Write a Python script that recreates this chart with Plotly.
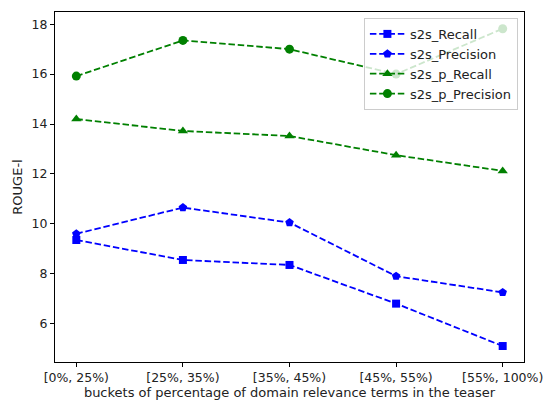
import plotly.graph_objects as go

categories = ["[0%, 25%)", "[25%, 35%)", "[35%, 45%)", "[45%, 55%)", "[55%, 100%)"]
s2s_recall = [9.35, 8.55, 8.35, 6.8, 5.1]
s2s_precision = [9.6, 10.65, 10.05, 7.9, 7.25]
s2s_p_recall = [14.2, 13.72, 13.52, 12.75, 12.12]
s2s_p_precision = [15.92, 17.35, 17.0, 16.0, 17.82]

series = [
    ("s2s_Recall", s2s_recall, "#0000ff", "square", 8),
    ("s2s_Precision", s2s_precision, "#0000ff", "pentagon", 9),
    ("s2s_p_Recall", s2s_p_recall, "#008000", "triangle-up", 9),
    ("s2s_p_Precision", s2s_p_precision, "#008000", "circle", 9),
]

x_idx = list(range(len(categories)))
fig = go.Figure()
for name, vals, color, sym, size in series:
    fig.add_trace(go.Scatter(
        x=x_idx, y=vals, name=name, mode="lines+markers",
        line=dict(color=color, width=1.8, dash="6.5px,2.8px"),
        marker=dict(symbol=sym, size=size, color=color),
    ))

txt = dict(family="DejaVu Sans", size=13, color="#222")
tick = dict(family="DejaVu Sans", size=12.5, color="#222")
fig.update_layout(
    width=545, height=400,
    margin=dict(l=55, r=21, t=12, b=38, autoexpand=False),
    paper_bgcolor="white", plot_bgcolor="white",
    font=txt,
    showlegend=True,
    legend=dict(
        x=0.987, y=0.983, xanchor="right", yanchor="top",
        bgcolor="rgba(255,255,255,0.8)", bordercolor="#cccccc", borderwidth=1,
        font=txt,
        itemwidth=35,
    ),
    xaxis=dict(
        tickmode="array", tickvals=x_idx, ticktext=categories,
        range=[-0.2, 4.2], showgrid=False, zeroline=False, automargin=False,
        ticklabeloverflow="allow",
        showline=True, linecolor="black", linewidth=1, mirror=True,
        ticks="outside", ticklen=4, tickcolor="black", tickfont=tick,
        title=dict(text="buckets of percentage of domain relevance terms in the teaser",
                   standoff=2, font=txt),
    ),
    yaxis=dict(
        range=[4.46, 18.49], tickvals=[6, 8, 10, 12, 14, 16, 18],
        showgrid=False, zeroline=False, automargin=False,
        showline=True, linecolor="black", linewidth=1, mirror=True,
        ticks="outside", ticklen=4, tickcolor="black", tickfont=tick,
        title=dict(text="ROUGE-l", standoff=6, font=txt),
    ),
)
fig.write_html(
    "out.html",
    config={"displayModeBar": False},
    post_script="document.body.style.margin='0';document.body.style.overflow='hidden';",
)
